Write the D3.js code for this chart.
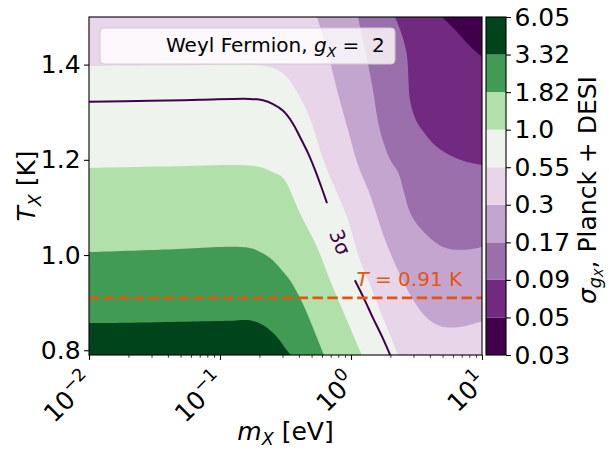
<!DOCTYPE html>
<html>
<head>
<meta charset="UTF-8">
<title>sigma gX</title>
<script src="https://d3js.org/d3.v7.min.js"></script>
<style>
  body { margin: 0; background: #fff; }
  text { font-family: "DejaVu Sans", sans-serif; white-space: pre; }
</style>
</head>
<body>
<div id="chart"></div>
<script>
// colour levels of sigma_gX and their bin colours (low -> high)
const levels = [0.03, 0.05, 0.09, 0.17, 0.3, 0.55, 1.0, 1.82, 3.32, 6.05];
const levelLabels = ["0.03", "0.05", "0.09", "0.17", "0.3", "0.55", "1.0", "1.82", "3.32", "6.05"];
const binColors = ["#40004b", "#722a80", "#9a6fab", "#c3a5cf", "#e8d5e9", "#eef3ed", "#b2e0ab", "#429b55", "#00441b"];

// boundaries [m_X (eV), T_X (K)] of the region sigma > level
const edge005 = [[4.95,1.5],[6.22,1.473],[7.82,1.443],[10,1.416]];
const edge009 = [[2.17,1.5],[2.45,1.462],[2.67,1.420],[2.82,1.326],[3.08,1.288],[3.48,1.263],[4.53,1.227],[6.79,1.200],[10,1.189]];
const edge017 = [[1.13,1.5],[1.28,1.431],[1.45,1.357],[1.66,1.263],[1.99,1.200],[2.29,1.174],[2.54,1.132],[2.82,1.090],[3.37,1.057],[5.04,1.017],[7.16,1.011],[10,1.017]];
const edge030 = [[0.55,1.5],[0.656,1.431],[0.782,1.347],[0.948,1.263],[1.13,1.189],[1.40,1.126],[1.82,1.032],[2.37,0.958],[2.92,0.910],[3.67,0.872],[4.78,0.851],[6.79,0.849],[10,0.861]];
const edge055 = [[0.01,1.397],[0.0348,1.398],[0.169,1.399],[0.221,1.397],[0.272,1.389],[0.324,1.374],[0.387,1.342],[0.446,1.311],[0.513,1.269],[0.579,1.221],[0.667,1.174],[0.796,1.126],[0.948,1.074],[1.17,0.989],[1.40,0.937],[1.66,0.884],[1.99,0.832],[2.29,0.79]];
const edge100 = [[0.01,1.183],[0.0348,1.186],[0.142,1.189],[0.202,1.185],[0.254,1.174],[0.303,1.162],[0.408,1.088],[0.550,1.017],[0.692,0.947],[0.931,0.863],[1.21,0.79]];
const edge182 = [[0.01,1.006],[0.0348,1.011],[0.142,1.017],[0.179,1.013],[0.241,0.994],[0.287,0.973],[0.342,0.947],[0.408,0.910],[0.486,0.863],[0.560,0.821],[0.622,0.79]];
const edge332 = [[0.01,0.857],[0.0348,0.859],[0.119,0.862],[0.169,0.863],[0.213,0.853],[0.272,0.828],[0.324,0.800],[0.348,0.79]];
const edges = [edge005, edge009, edge017, edge030, edge055, edge100, edge182, edge332];

// 3 sigma contour (two pieces, label in the gap)
const sigma3Upper = [[0.01,1.322],[0.0292,1.324],[0.0703,1.326],[0.169,1.328],[0.213,1.325],[0.254,1.317],[0.303,1.303],[0.355,1.279],[0.408,1.248],[0.470,1.214],[0.531,1.179],[0.590,1.145],[0.656,1.109]];
const sigma3Lower = [[1.07,0.947],[1.26,0.908],[1.47,0.868],[1.73,0.828],[1.99,0.79]];
const sigma3Label = [0.824, 1.027];

const xTicks = [0.01, 0.1, 1, 10];
const xTickExp = ["\u22122", "\u22121", "0", "1"];
const yTicks = [0.8, 1.0, 1.2, 1.4];
const tRef = 0.91;

const W = 609, H = 452;
const L = 89, R = 482, T = 17, B = 355;
const mMin = 0.01, mMax = 10, tMin = 0.79, tMax = 1.5;

const svg = d3.select("#chart").append("svg").attr("width", W).attr("height", H);

const x = d3.scaleLog().domain([mMin, mMax]).range([L, R]);
const y = d3.scaleLinear().domain([tMin, tMax]).range([B, T]);

svg.append("clipPath").attr("id", "clip")
   .append("rect").attr("x", L).attr("y", T).attr("width", R - L).attr("height", B - T);

const plot = svg.append("g").attr("clip-path", "url(#clip)");

plot.append("rect").attr("x", L).attr("y", T).attr("width", R - L).attr("height", B - T)
    .attr("fill", binColors[0]);

const smooth = d3.line().x(d => x(d[0])).y(d => y(d[1])).curve(d3.curveCatmullRom.alpha(0.5));

function regionPath(edge) {
  const first = edge[0], last = edge[edge.length - 1];
  const corners = [];
  if (last[0] >= mMax) corners.push([mMax, tMin]);
  corners.push([mMin, tMin]);
  if (first[1] >= tMax) corners.push([mMin, tMax]);
  return smooth(edge) + corners.map(c => "L" + x(c[0]) + "," + y(c[1])).join("") + "Z";
}

plot.selectAll(".region")
    .data(edges)
    .enter()
    .append("path")
    .attr("class", "region")
    .attr("d", d => regionPath(d))
    .attr("fill", (d, i) => binColors[i + 1]);

// 3 sigma line
plot.selectAll(".s3")
    .data([sigma3Upper, sigma3Lower])
    .enter()
    .append("path")
    .attr("d", d => smooth(d))
    .attr("fill", "none")
    .attr("stroke", "#40004b")
    .attr("stroke-width", 2);

plot.append("text")
    .attr("transform", `translate(${x(sigma3Label[0])},${y(sigma3Label[1])}) rotate(68)`)
    .attr("text-anchor", "middle")
    .attr("dy", "0.35em")
    .style("font-size", "20px")
    .attr("fill", "#40004b")
    .text("3\u03c3");

// reference temperature
plot.append("line")
    .attr("x1", x(mMin)).attr("x2", x(mMax))
    .attr("y1", y(tRef)).attr("y2", y(tRef))
    .attr("stroke", "#e6550d")
    .attr("stroke-width", 2.8)
    .attr("stroke-dasharray", "10.4,4.5");

const tTxt = plot.append("text")
    .attr("x", x(1.1)).attr("y", y(tRef) - 12)
    .attr("fill", "#e6550d")
    .style("font-size", "20px");
tTxt.append("tspan").style("font-style", "italic").text("T");
tTxt.append("tspan").text(" = 0.91 K");

// legend
svg.append("rect")
   .attr("x", 100).attr("y", 28).attr("width", 295).attr("height", 36).attr("rx", 4)
   .attr("fill", "#fff").attr("fill-opacity", 0.8)
   .attr("stroke", "#cccccc").attr("stroke-width", 1);
const lg = svg.append("text").attr("x", 166).attr("y", 52).style("font-size", "20px").attr("fill", "#000");
lg.append("tspan").text("Weyl Fermion, ");
lg.append("tspan").style("font-style", "italic").text("g");
lg.append("tspan").attr("dy", 5).style("font-size", "14px").style("font-style", "italic").text("X");
lg.append("tspan").attr("dy", -5).text(" =  2");

// frame
svg.append("rect").attr("x", L).attr("y", T).attr("width", R - L).attr("height", B - T)
   .attr("fill", "none").attr("stroke", "#000").attr("stroke-width", 1.1);

// x axis ticks
const minors = [];
[0.01, 0.1, 1].forEach(dec => { for (let k = 2; k <= 9; k++) minors.push(dec * k); });
svg.append("g").attr("transform", `translate(0,${B})`)
   .call(d3.axisBottom(x).tickValues(minors).tickSize(2.8).tickFormat(""))
   .call(g => g.select(".domain").remove())
   .call(g => g.selectAll("line").attr("stroke-width", 0.8));
svg.append("g").attr("transform", `translate(0,${B})`)
   .call(d3.axisBottom(x).tickValues(xTicks).tickSize(4.9).tickFormat(""))
   .call(g => g.select(".domain").remove())
   .call(g => g.selectAll("line").attr("stroke-width", 1.1));

xTicks.forEach((v, i) => {
  const t = svg.append("text")
     .attr("transform", `translate(${x(v) + 6},${B + 28}) rotate(-45)`)
     .attr("text-anchor", "end")
     .style("font-size", "25px");
  t.append("tspan").text("10");
  t.append("tspan").attr("dy", -11).style("font-size", "17.5px").text(xTickExp[i]);
});

// y axis
svg.append("g").attr("transform", `translate(${L},0)`)
   .call(d3.axisLeft(y).tickValues(yTicks).tickSize(4.9).tickPadding(3.5).tickFormat(d3.format(".1f")))
   .call(g => g.select(".domain").remove())
   .call(g => g.selectAll("line").attr("stroke-width", 1.1))
   .call(g => g.selectAll("text").style("font-size", "25px").attr("font-family", "DejaVu Sans").attr("fill", "#000"));

// axis labels
const yl = svg.append("text")
   .attr("transform", `translate(35,${(T + B) / 2}) rotate(-90)`)
   .attr("text-anchor", "middle").style("font-size", "25px");
yl.append("tspan").style("font-style", "italic").text("T");
yl.append("tspan").attr("dy", 6).style("font-size", "17.5px").style("font-style", "italic").text("X");
yl.append("tspan").attr("dy", -6).text(" [K]");

const xl = svg.append("text")
   .attr("x", (L + R) / 2).attr("y", 440)
   .attr("text-anchor", "middle").style("font-size", "25px");
xl.append("tspan").style("font-style", "italic").text("m");
xl.append("tspan").attr("dy", 5).style("font-size", "17.5px").style("font-style", "italic").text("X");
xl.append("tspan").attr("dy", -5).text(" [eV]");

// colorbar
const cbL = 486, cbR = 506;
const cb = d3.scaleLinear().domain([0, levels.length - 1]).range([B, T]);
svg.selectAll(".cb")
   .data(binColors)
   .enter()
   .append("rect")
   .attr("x", cbL).attr("width", cbR - cbL)
   .attr("y", (d, i) => cb(i + 1))
   .attr("height", (d, i) => cb(i) - cb(i + 1))
   .attr("fill", d => d);
svg.append("rect").attr("x", cbL).attr("y", T).attr("width", cbR - cbL).attr("height", B - T)
   .attr("fill", "none").attr("stroke", "#000").attr("stroke-width", 1.1);
svg.append("g").attr("transform", `translate(${cbR},0)`)
   .call(d3.axisRight(cb).tickValues(d3.range(levels.length)).tickSize(4.9).tickPadding(3.5).tickFormat(i => levelLabels[i]))
   .call(g => g.select(".domain").remove())
   .call(g => g.selectAll("line").attr("stroke-width", 1.1))
   .call(g => g.selectAll("text").style("font-size", "25px").attr("font-family", "DejaVu Sans").attr("fill", "#000"));

const cl = svg.append("text")
   .attr("transform", `translate(596,${(T + B) / 2 + 4}) rotate(-90)`)
   .attr("text-anchor", "middle").style("font-size", "25px");
cl.append("tspan").style("font-style", "italic").text("\u03c3");
cl.append("tspan").attr("dy", 5).style("font-size", "17.5px").style("font-style", "italic").text("g");
cl.append("tspan").attr("dy", 2).style("font-size", "12.5px").style("font-style", "italic").text("X");
cl.append("tspan").attr("dy", -7).text(", Planck + DESI");
</script>
</body>
</html>
